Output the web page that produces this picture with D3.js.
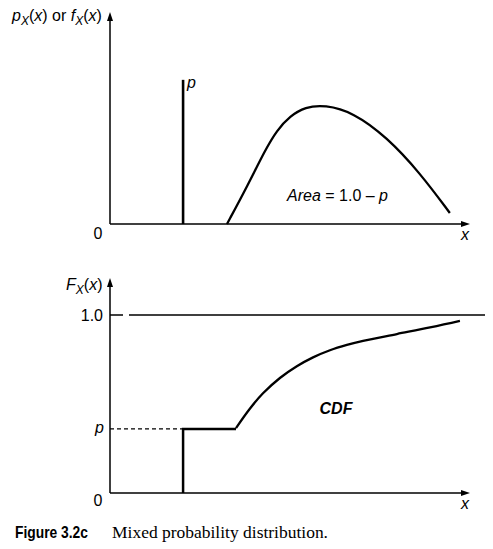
<!DOCTYPE html>
<html><head><meta charset="utf-8">
<script src="https://cdn.jsdelivr.net/npm/d3@7"></script>
<style>
body{margin:0;background:#fff;}
text{font-family:"Liberation Sans",Arial,Helvetica,sans-serif;fill:#000;}
</style></head>
<body><svg id="c" width="493" height="549"></svg>
<script>
// ---- data (x in arbitrary units 0..100, y in probability units) ----
const spikeX = 20.3;          // location of the discrete mass
const pMass = 0.68;           // height of spike in top panel (display units)
const pdfX = [32.5, 38.3, 43.1, 46.4, 50.0, 54.2, 59.7, 67.5, 76.9, 86.1, 94.4];
const pdfY = [0.0, 0.184, 0.349, 0.443, 0.509, 0.552, 0.562, 0.527, 0.410, 0.241, 0.052];
const pLevel = 0.36;          // CDF jump height p
const cdfStepX = [20.3, 20.3, 35.0];
const cdfStepY = [0, 0.36, 0.36];
const cdfX = [35.0, 38.9, 42.5, 47.2, 51.9, 56.4, 61.1, 65.8, 70.3, 79.7, 88.9, 97.2];
const cdfY = [0.365, 0.475, 0.560, 0.646, 0.712, 0.762, 0.802, 0.832, 0.855, 0.893, 0.930, 0.967];
const yTickLabels = ["0", "p", "1.0"];

const svg = d3.select("#c");
const x = d3.scaleLinear().domain([0, 100]).range([110, 470]);
const yTop = d3.scaleLinear().domain([0, 1]).range([224, 12]);
const yBot = d3.scaleLinear().domain([0, 1]).range([493, 315]);

function arrowUp(xp, yp){ svg.append("path").attr("d",`M${xp},${yp} L${xp-3},${yp+9} L${xp+3},${yp+9} Z`).attr("fill","#000"); }
function arrowRight(xp, yp){ svg.append("path").attr("d",`M${xp},${yp} L${xp-9},${yp-3} L${xp-9},${yp+3} Z`).attr("fill","#000"); }

// ---- top panel ----
svg.append("line").attr("x1",x(0)).attr("x2",x(0)).attr("y1",yTop(0)).attr("y2",yTop(1)+4).attr("stroke","#000").attr("stroke-width",1.5);
arrowUp(x(0), yTop(1));
svg.append("line").attr("x1",x(0)).attr("x2",x(100)-4).attr("y1",yTop(0)).attr("y2",yTop(0)).attr("stroke","#000").attr("stroke-width",1.5);
arrowRight(x(100), yTop(0));

svg.append("line").attr("x1",x(spikeX)).attr("x2",x(spikeX)).attr("y1",yTop(0)).attr("y2",yTop(pMass)).attr("stroke","#000").attr("stroke-width",2.6);
svg.append("text").attr("x",x(spikeX)+4).attr("y",yTop(pMass)+8).attr("font-size",16).attr("font-style","italic").text("p");

const pdfLine = d3.line().x(d=>x(d[0])).y(d=>yTop(d[1])).curve(d3.curveBasis);
svg.append("path").attr("d",pdfLine(pdfX.map((v,i)=>[v,pdfY[i]]))).attr("fill","none").attr("stroke","#000").attr("stroke-width",2.3);

const at = svg.append("text").attr("x",287).attr("y",201).attr("font-size",16);
at.append("tspan").attr("font-style","italic").text("Area");
at.append("tspan").text(" = 1.0 \u2013 ");
at.append("tspan").attr("font-style","italic").text("p");

svg.append("text").attr("x",98).attr("y",239).attr("font-size",16).attr("text-anchor","middle").text(yTickLabels[0]);
svg.append("text").attr("x",465).attr("y",240).attr("font-size",16).attr("font-style","italic").attr("text-anchor","middle").text("x");

const tl = svg.append("text").attr("x",12).attr("y",21).attr("font-size",16);
tl.append("tspan").attr("font-style","italic").text("p");
tl.append("tspan").attr("font-style","italic").attr("font-size",12).attr("dy",4).text("X");
tl.append("tspan").attr("dy",-4).text("(");
tl.append("tspan").attr("font-style","italic").text("x");
tl.append("tspan").text(") or ");
tl.append("tspan").attr("font-style","italic").text("f");
tl.append("tspan").attr("font-style","italic").attr("font-size",12).attr("dy",4).text("X");
tl.append("tspan").attr("dy",-4).text("(");
tl.append("tspan").attr("font-style","italic").text("x");
tl.append("tspan").text(")");

// ---- bottom panel ----
svg.append("line").attr("x1",x(0)).attr("x2",x(0)).attr("y1",yBot(0)).attr("y2",280+4).attr("stroke","#000").attr("stroke-width",1.5);
arrowUp(x(0), 278);
svg.append("line").attr("x1",x(0)).attr("x2",x(100)-4).attr("y1",yBot(0)).attr("y2",yBot(0)).attr("stroke","#000").attr("stroke-width",1.5);
arrowRight(x(100), yBot(0));

// 1.0 reference line
svg.append("line").attr("x1",x(0)).attr("x2",485).attr("y1",yBot(1)).attr("y2",yBot(1)).attr("stroke","#000").attr("stroke-width",1.3).attr("stroke-dasharray","13,6,1000");
// p dashed line
svg.append("line").attr("x1",x(0)).attr("x2",x(spikeX)).attr("y1",yBot(pLevel)).attr("y2",yBot(pLevel)).attr("stroke","#000").attr("stroke-width",1.2).attr("stroke-dasharray","4,3");

const stepLine = d3.line().x(d=>x(d[0])).y(d=>yBot(d[1]));
svg.append("path").attr("d",stepLine(cdfStepX.map((v,i)=>[v,cdfStepY[i]]))).attr("fill","none").attr("stroke","#000").attr("stroke-width",2.5);
const cdfLine = d3.line().x(d=>x(d[0])).y(d=>yBot(d[1])).curve(d3.curveCatmullRom.alpha(0.5));
svg.append("path").attr("d",cdfLine(cdfX.map((v,i)=>[v,cdfY[i]]))).attr("fill","none").attr("stroke","#000").attr("stroke-width",2.3);

svg.append("text").attr("x",336).attr("y",414).attr("font-size",16).attr("font-style","italic").attr("font-weight","bold").attr("text-anchor","middle").text("CDF");

svg.append("text").attr("x",103).attr("y",yBot(1)+6).attr("font-size",16).attr("text-anchor","end").text(yTickLabels[2]);
svg.append("text").attr("x",104).attr("y",yBot(pLevel)+4).attr("font-size",16).attr("font-style","italic").attr("text-anchor","end").text(yTickLabels[1]);
svg.append("text").attr("x",98).attr("y",506).attr("font-size",16).attr("text-anchor","middle").text(yTickLabels[0]);
svg.append("text").attr("x",465).attr("y",509).attr("font-size",16).attr("font-style","italic").attr("text-anchor","middle").text("x");

const bl = svg.append("text").attr("x",66).attr("y",290).attr("font-size",16);
bl.append("tspan").attr("font-style","italic").text("F");
bl.append("tspan").attr("font-style","italic").attr("font-size",12).attr("dy",4).text("X");
bl.append("tspan").attr("dy",-4).text("(");
bl.append("tspan").attr("font-style","italic").text("x");
bl.append("tspan").text(")");

// caption
svg.append("text").attr("x",15).attr("y",538).attr("font-size",16.5).attr("font-weight","bold")
  .attr("textLength",73).attr("lengthAdjust","spacingAndGlyphs").text("Figure 3.2c");
svg.append("text").attr("x",112).attr("y",538).attr("font-size",17)
  .attr("textLength",216).attr("lengthAdjust","spacingAndGlyphs")
  .style("font-family","'Liberation Serif','Times New Roman',serif").text("Mixed probability distribution.");
</script></body></html>
